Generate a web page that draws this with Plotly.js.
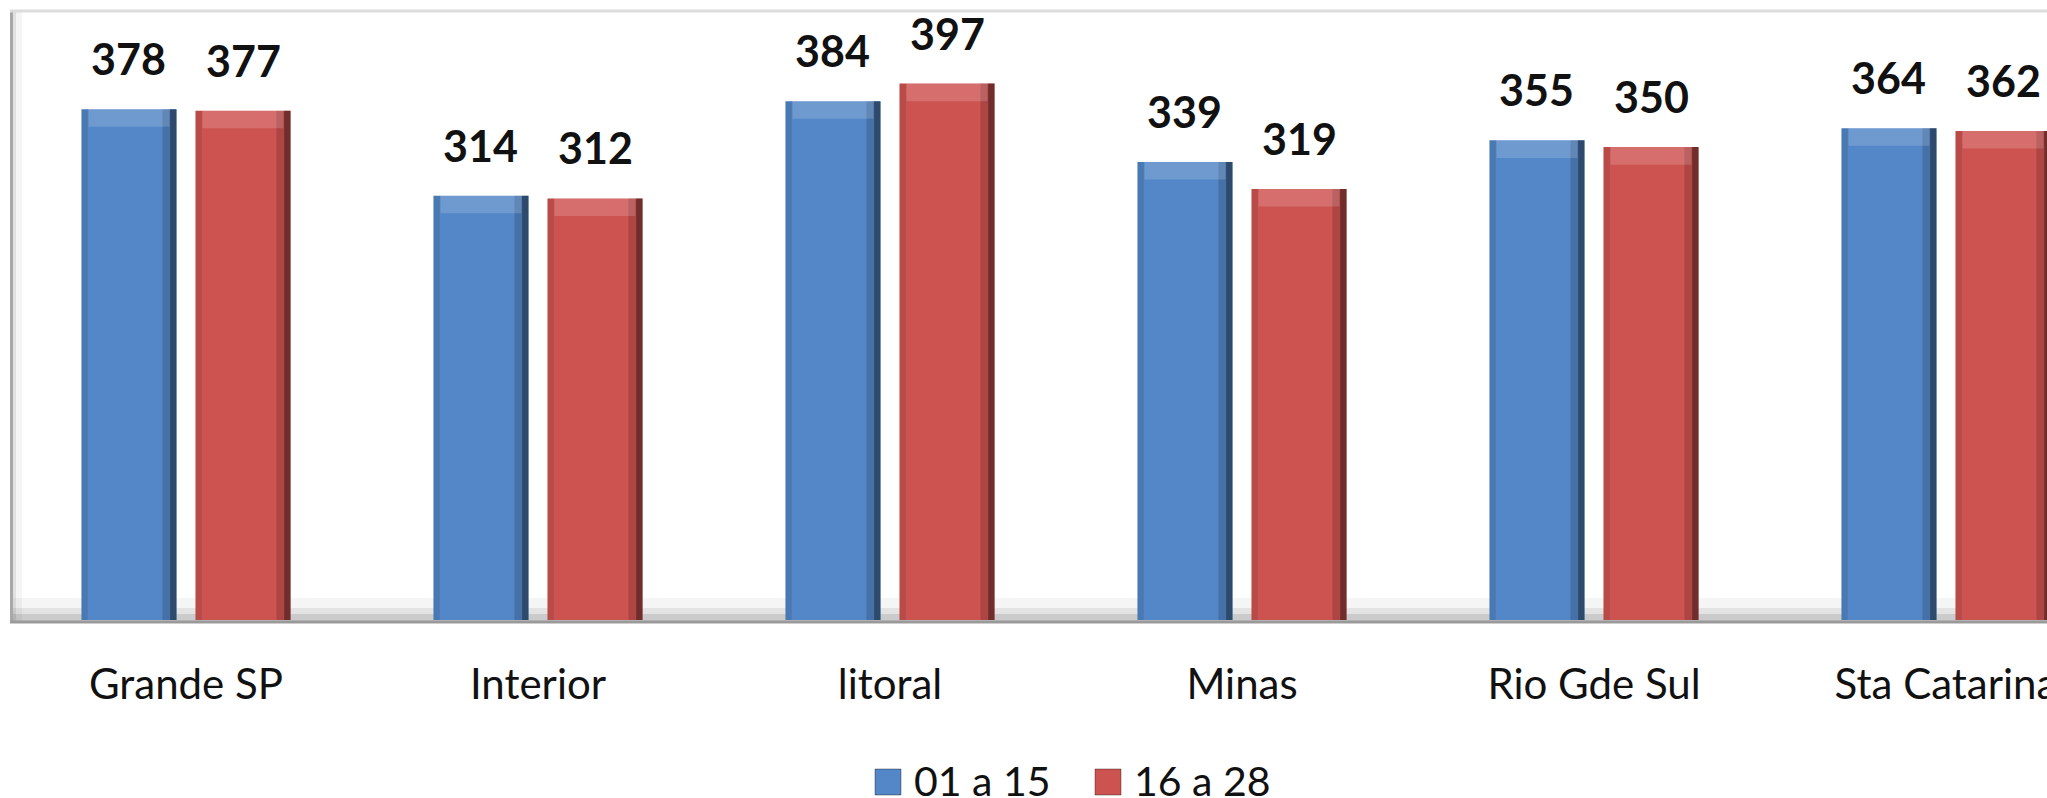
<!DOCTYPE html>
<html>
<head>
<meta charset="utf-8">
<script src="https://cdn.plot.ly/plotly-3.0.1.min.js"></script>
<style>
  html, body { margin: 0; padding: 0; background: #ffffff; overflow: hidden; }
  #chart { width: 2047px; height: 798px; }
</style>
</head>
<body>
<div id="chart"></div>
<script>
// ---- data ----
const categories = ['Grande SP', 'Interior', 'litoral', 'Minas', 'Rio Gde Sul', 'Sta Catarina'];
const seriesNames = ['01 a 15', '16 a 28'];
const firstHalf = [378, 314, 384, 339, 355, 364];
const secondHalf = [377, 312, 397, 319, 350, 362];

// ---- styling ----
const W = 2047, H = 798;
const M = { l: 10, r: 0, t: 12, b: 178 };
const plotW = W - M.l - M.r, plotH = H - M.t - M.b;
const colors = ['#5387C7', '#CD5350'];
const FONT = 'Lato, "Open Sans", sans-serif';
const barW = 0.27, centerOff = 0.162;
const seriesVals = [firstHalf, secondHalf];
const centers = [-centerOff, centerOff];

const px2x = px => (px - M.l) / plotW;
const px2y = py => (M.t + plotH - py) / plotH;

const traces = [];
const annotations = [];
seriesVals.forEach((vals, s) => {
  const c = centers[s];
  traces.push({
    type: 'bar', name: seriesNames[s], x: categories, y: vals,
    offset: c - barW / 2, width: barW,
    marker: { color: colors[s], line: { width: 0 } },
    showlegend: false, hoverinfo: 'x+y+name'
  });
  // bevel shading: left edge, right edge, top highlight
  traces.push({
    type: 'bar', x: categories, y: vals, offset: c - barW / 2, width: 0.018,
    marker: { color: 'rgba(0,0,0,0.10)', line: { width: 0 } }, showlegend: false, hoverinfo: 'skip'
  });
  traces.push({
    type: 'bar', x: categories, y: vals, offset: c + barW / 2 - 0.04, width: 0.04,
    marker: { color: 'rgba(0,0,0,0.16)', line: { width: 0 } }, showlegend: false, hoverinfo: 'skip'
  });
  traces.push({
    type: 'bar', x: categories, y: vals, offset: c + barW / 2 - 0.018, width: 0.018,
    marker: { color: 'rgba(0,0,0,0.35)', line: { width: 0 } }, showlegend: false, hoverinfo: 'skip'
  });
  traces.push({
    type: 'bar', x: categories, y: vals.map(() => 13), base: vals.map(v => v - 13),
    offset: c - barW / 2 + 0.02, width: barW - 0.04,
    marker: { color: 'rgba(255,255,255,0.16)', line: { width: 0 } }, showlegend: false, hoverinfo: 'skip'
  });
  // value labels
  vals.forEach((v, i) => {
    annotations.push({
      x: i + c, y: v, xref: 'x', yref: 'y', text: '<b>' + v + '</b>',
      showarrow: false, yanchor: 'bottom', yshift: 23,
      font: { family: FONT, size: 43, color: '#111111' }
    });
  });
});

// custom legend (large bevelled squares)
const legendPos = [{ sq: 875, tx: 912 }, { sq: 1095, tx: 1132 }];
const legendY = 780;
const shapes = [];
seriesNames.forEach((n, s) => {
  annotations.push({
    xref: 'paper', yref: 'paper', x: px2x(legendPos[s].tx), y: px2y(legendY),
    xanchor: 'left', yanchor: 'middle', showarrow: false, text: n,
    font: { family: FONT, size: 41, color: '#111111' }
  });
  shapes.push({
    type: 'rect', xref: 'paper', yref: 'paper', xsizemode: 'pixel', ysizemode: 'pixel',
    xanchor: px2x(legendPos[s].sq), yanchor: px2y(legendY + 2),
    x0: 0, x1: 26, y0: -13, y1: 13, fillcolor: colors[s], line: { width: 1, color: 'rgba(0,0,0,0.35)' }
  });
});

// chart frame: left wall, top edge, floor
shapes.push(
  { type: 'rect', xref: 'paper', yref: 'paper', layer: 'below', x0: 0, x1: 1, y0: px2y(621), y1: px2y(598),
    fillcolor: 'rgba(0,0,0,0.04)', line: { width: 0 } },
  { type: 'rect', xref: 'paper', yref: 'paper', layer: 'below', x0: 0, x1: 1, y0: px2y(621), y1: px2y(608),
    fillcolor: 'rgba(0,0,0,0.07)', line: { width: 0 } },
  { type: 'rect', xref: 'paper', yref: 'paper', layer: 'below', x0: 0, x1: 1, y0: px2y(621), y1: px2y(614),
    fillcolor: 'rgba(0,0,0,0.10)', line: { width: 0 } },
  { type: 'rect', xref: 'paper', yref: 'paper', layer: 'below', x0: px2x(10), x1: px2x(22), y0: px2y(621), y1: 1,
    fillcolor: 'rgba(0,0,0,0.04)', line: { width: 0 } },
  { type: 'rect', xref: 'paper', yref: 'paper', layer: 'below', x0: px2x(10), x1: px2x(16), y0: px2y(621), y1: 1,
    fillcolor: 'rgba(0,0,0,0.08)', line: { width: 0 } },
  { type: 'line', xref: 'paper', yref: 'paper', x0: px2x(11.5), x1: px2x(11.5), y0: px2y(622), y1: 1,
    line: { color: '#a8a8a8', width: 3 } },
  { type: 'line', xref: 'paper', yref: 'paper', x0: px2x(10), x1: 1, y0: px2y(622), y1: px2y(622),
    line: { color: '#9a9a9a', width: 3 } },
  { type: 'line', xref: 'paper', yref: 'paper', x0: px2x(10), x1: 1, y0: px2y(11), y1: px2y(11),
    line: { color: '#dcdcdc', width: 3 } }
);

const layout = {
  width: W, height: H,
  margin: M,
  paper_bgcolor: '#ffffff', plot_bgcolor: '#ffffff',
  barmode: 'overlay',
  showlegend: false,
  font: { family: FONT, color: '#111111' },
  xaxis: {
    type: 'category', range: [-0.5, -0.5 + plotW / 352],
    showgrid: false, zeroline: false, showline: false, ticks: '',
    ticklabelstandoff: 36,
    tickfont: { family: FONT, size: 42, color: '#111111' }
  },
  yaxis: {
    range: [0, 450], visible: false, showgrid: false, zeroline: false
  },
  annotations: annotations,
  shapes: shapes
};

Plotly.newPlot('chart', traces, layout, { displayModeBar: false, staticPlot: true });
</script>
</body>
</html>
